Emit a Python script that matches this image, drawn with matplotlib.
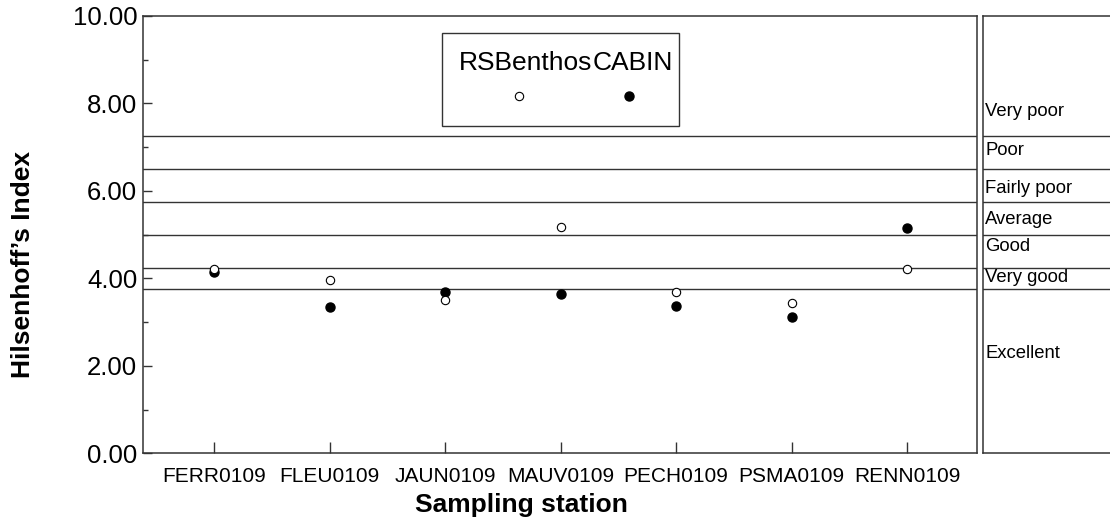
import matplotlib
matplotlib.use("Agg")
import matplotlib.pyplot as plt
from matplotlib.patches import Rectangle
from matplotlib.ticker import MultipleLocator, FormatStrFormatter

plt.rcParams["font.family"] = ["Liberation Sans", "DejaVu Sans"]

STATIONS = ["FERR0109", "FLEU0109", "JAUN0109", "MAUV0109",
            "PECH0109", "PSMA0109", "RENN0109"]
RSBENTHOS = [4.21, 3.97, 3.50, 5.17, 3.70, 3.43, 4.22]
CABIN = [4.14, 3.35, 3.70, 3.65, 3.37, 3.13, 5.15]

# class limits of the Hilsenhoff index
LIMITS = [3.75, 4.25, 5.0, 5.75, 6.5, 7.25]
CLASSES = ["Excellent", "Very good", "Good", "Average",
           "Fairly poor", "Poor", "Very poor"]
CLASS_Y = [2.29, 4.02, 4.73, 5.34, 6.05, 6.92, 7.82]  # where the names sit

LINE_C = "#333333"

fig = plt.figure(figsize=(11.10, 5.21), dpi=100)
ax = fig.add_axes([0.1286, 0.1296, 0.7520, 0.8397])
side = fig.add_axes([0.8856, 0.1296, 0.1200, 0.8397])

x = list(range(len(STATIONS)))

# main plot
for v in LIMITS:
    ax.axhline(v, color=LINE_C, lw=1.0, zorder=1)
ax.plot(x, RSBENTHOS, "o", ms=6, mfc="white", mec="black", mew=0.8,
        ls="none", zorder=3)
ax.plot(x, CABIN, "o", ms=6.5, mfc="black", mec="black", ls="none", zorder=2)

ax.set_xlim(-0.617, 6.61)
ax.set_ylim(0, 10)
ax.set_xticks(x)
ax.set_xticklabels(STATIONS, fontsize=15)
ax.yaxis.set_major_locator(MultipleLocator(2))
ax.yaxis.set_minor_locator(MultipleLocator(1))
ax.yaxis.set_major_formatter(FormatStrFormatter("%.2f"))
ax.tick_params(axis="y", which="major", direction="in", length=6.5,
               width=1.0, color=LINE_C, labelsize=18.5, pad=4)
ax.tick_params(axis="y", which="minor", direction="in", length=3.4,
               width=1.0, color=LINE_C)
ax.tick_params(axis="x", direction="in", length=8, width=1.0,
               color=LINE_C, pad=10)
for s in ax.spines.values():
    s.set_color(LINE_C)
    s.set_linewidth(1.1)

# legend box drawn by hand (text above the marker)
ax.add_patch(Rectangle((0.358, 0.7486), 0.2846, 0.2132, transform=ax.transAxes,
                       fill=False, ec=LINE_C, lw=1.0, zorder=4))
ax.text(0.4585, 0.8926, "RSBenthos", transform=ax.transAxes, fontsize=19,
        ha="center", va="center")
ax.text(0.5875, 0.8926, "CABIN", transform=ax.transAxes, fontsize=19,
        ha="center", va="center")
ax.plot([0.4507], [0.8171], "o", ms=6, mfc="white", mec="black", mew=0.8,
        transform=ax.transAxes)
ax.plot([0.5824], [0.8171], "o", ms=6.5, mfc="black", mec="black",
        transform=ax.transAxes)

# side panel with class names
side.set_xlim(0, 1)
side.set_ylim(0, 10)
for v in LIMITS:
    side.axhline(v, color=LINE_C, lw=1.0)
for name, yv in zip(CLASSES, CLASS_Y):
    side.text(0.015, yv, name, fontsize=13.3, ha="left", va="center")
side.set_xticks([])
side.set_yticks([])
side.spines["right"].set_visible(False)
for s in side.spines.values():
    s.set_color(LINE_C)
    s.set_linewidth(1.1)

fig.text(521 / 1110, 1 - 505 / 521, "Sampling station", fontsize=19,
         fontweight="bold", ha="center", va="center")
fig.text(23 / 1110, 1 - 265 / 521, "Hilsenhoff\u2019s Index", fontsize=19,
         fontweight="bold", rotation=90, ha="center", va="center")

fig.savefig("out.png", dpi=100)
